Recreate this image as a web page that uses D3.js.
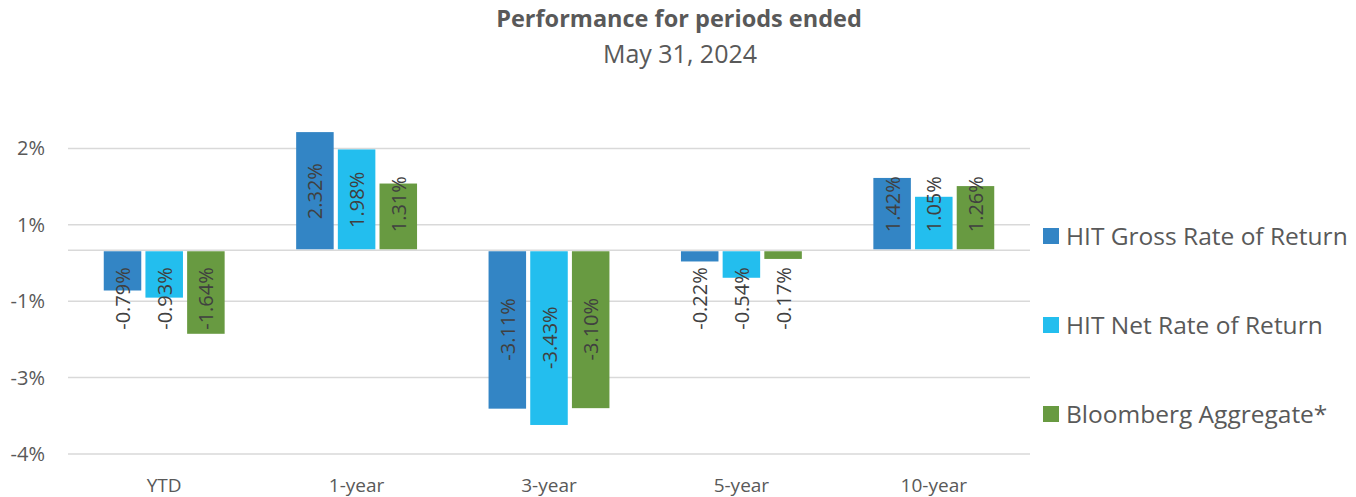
<!DOCTYPE html>
<html>
<head>
<meta charset="utf-8">
<script src="https://cdn.jsdelivr.net/npm/d3@7"></script>
<style>
  body { margin: 0; background: #fff; }
  svg text { font-family: "Open Sans", Lato, sans-serif; }
</style>
</head>
<body>
<div id="chart"></div>
<script>
// values
const categories = ["YTD", "1-year", "3-year", "5-year", "10-year"];
const seriesNames = ["HIT Gross Rate of Return", "HIT Net Rate of Return", "Bloomberg Aggregate*"];
const grossReturn = [-0.79, 2.32, -3.11, -0.22, 1.42];
const netReturn = [-0.93, 1.98, -3.43, -0.54, 1.05];
const bloombergAgg = [-1.64, 1.31, -3.10, -0.17, 1.26];
const tickValues = [2, 0.5, -1, -2.5, -4];
const tickLabels = ["2%", "1%", "-1%", "-3%", "-4%"];
const colors = ["#3385C5", "#23BEEE", "#689A41"];

const width = 1356, height = 497;
const plot = { left: 68, right: 1030, top: 72, bottom: 454 };

const svg = d3.select("#chart")
    .append("svg")
    .attr("width", width)
    .attr("height", height);

const seriesValues = [grossReturn, netReturn, bloombergAgg];
const data = categories.map((c, i) => ({
    cat: c,
    vals: seriesNames.map((s, j) => ({ series: s, idx: j, value: seriesValues[j][i] }))
}));

const x0 = d3.scaleBand()
    .domain(categories)
    .range([plot.left, plot.right])
    .paddingInner(0.35)
    .paddingOuter(0.175);

const x1 = d3.scaleBand()
    .domain(seriesNames)
    .range([0, x0.bandwidth()])
    .paddingInner(0.1)
    .paddingOuter(0.05);

const y = d3.scaleLinear()
    .domain([-4, 3.5])
    .range([plot.bottom, plot.top]);

// title
svg.append("text")
    .attr("x", 679).attr("y", 27)
    .attr("text-anchor", "middle")
    .attr("font-size", "23.5px")
    .attr("font-weight", "bold")
    .attr("fill", "#595959")
    .text("Performance for periods ended");

svg.append("text")
    .attr("x", 680).attr("y", 63)
    .attr("text-anchor", "middle")
    .attr("font-size", "25px")
    .attr("fill", "#595959")
    .text("May 31, 2024");

// gridlines + y labels
svg.selectAll(".grid")
    .data(tickValues)
    .enter().append("line")
    .attr("class", "grid")
    .attr("x1", plot.left).attr("x2", plot.right)
    .attr("y1", d => y(d)).attr("y2", d => y(d))
    .attr("stroke", "#D9D9D9")
    .attr("stroke-width", 1.5);

svg.selectAll(".ytick")
    .data(tickValues)
    .enter().append("text")
    .attr("class", "ytick")
    .attr("x", 45)
    .attr("y", d => y(d))
    .attr("dy", "0.35em")
    .attr("text-anchor", "end")
    .attr("font-size", "20px")
    .attr("fill", "#595959")
    .text((d, i) => tickLabels[i]);

// category axis line at zero
svg.append("line")
    .attr("x1", plot.left).attr("x2", plot.right)
    .attr("y1", y(0)).attr("y2", y(0))
    .attr("stroke", "#D9D9D9")
    .attr("stroke-width", 1.5);

svg.selectAll(".xlabel")
    .data(categories)
    .enter().append("text")
    .attr("class", "xlabel")
    .attr("x", d => x0(d) + x0.bandwidth() / 2)
    .attr("y", 492)
    .attr("text-anchor", "middle")
    .attr("font-size", "19px")
    .attr("fill", "#595959")
    .text(d => d);

// bars
const groups = svg.selectAll(".group")
    .data(data)
    .enter().append("g")
    .attr("class", "group")
    .attr("transform", d => `translate(${x0(d.cat)},0)`);

groups.selectAll("rect")
    .data(d => d.vals)
    .enter().append("rect")
    .attr("x", d => x1(d.series))
    .attr("width", x1.bandwidth())
    .attr("y", d => d.value >= 0 ? y(d.value) : y(0) + 1)
    .attr("height", d => Math.abs(y(d.value) - y(0)) - 1)
    .attr("fill", d => colors[d.idx]);

// rotated value labels, centred on bar but kept off the zero line
const zero = y(0);
groups.selectAll(".vlabel")
    .data(d => d.vals)
    .enter().append("text")
    .attr("class", "vlabel")
    .attr("text-anchor", "middle")
    .attr("dominant-baseline", "central")
    .attr("font-size", "20px")
    .attr("fill", "#404040")
    .text(d => d.value.toFixed(2) + "%")
    .each(function(d) {
        const L = this.getComputedTextLength();
        const mid = (y(d.value) + zero) / 2;
        const cy = d.value >= 0 ? Math.min(mid, zero - 18 - L / 2) : Math.max(mid, zero + 17 + L / 2);
        const cx = x1(d.series) + x1.bandwidth() / 2;
        d3.select(this).attr("transform", `translate(${cx},${cy}) rotate(-90)`);
    });

// legend
const legend = svg.selectAll(".legend")
    .data(seriesNames)
    .enter().append("g")
    .attr("class", "legend")
    .attr("transform", (d, i) => `translate(1043,${236 + i * 89})`);

legend.append("rect")
    .attr("x", 0).attr("y", -8)
    .attr("width", 16).attr("height", 16)
    .attr("fill", (d, i) => colors[i]);

legend.append("text")
    .attr("x", 23)
    .attr("dy", "0.35em")
    .attr("font-size", "24.5px")
    .attr("fill", "#595959")
    .text(d => d);
</script>
</body>
</html>
